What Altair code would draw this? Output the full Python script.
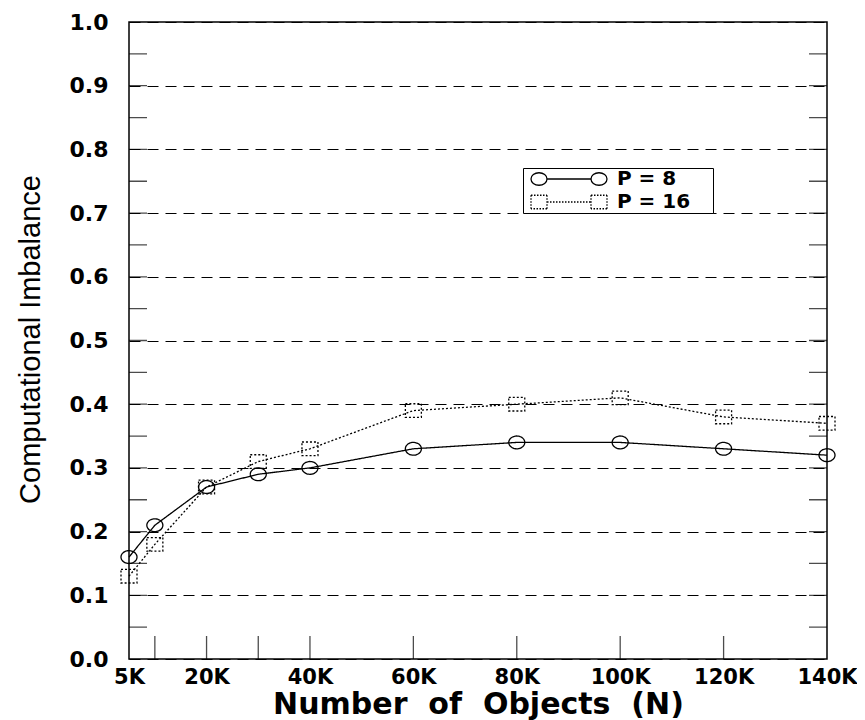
import altair as alt
import pandas as pd

# ---- data ----
N = [5000, 10000, 20000, 30000, 40000, 60000, 80000, 100000, 120000, 140000]
p8 = [0.16, 0.21, 0.27, 0.29, 0.30, 0.33, 0.34, 0.34, 0.33, 0.32]
p16 = [0.13, 0.18, 0.27, 0.31, 0.33, 0.39, 0.40, 0.41, 0.38, 0.37]
series_names = ["P = 8", "P = 16"]

x_label_values = [5000, 20000, 40000, 60000, 80000, 100000, 120000, 140000]
x_tick_values = [10000, 20000, 30000, 40000, 60000, 80000, 100000, 120000]
y_label_values = [0.0, 0.1, 0.2, 0.3, 0.4, 0.5, 0.6, 0.7, 0.8, 0.9, 1.0]
y_tick_values = [0.05, 0.1, 0.15, 0.2, 0.25, 0.3, 0.35, 0.4, 0.45, 0.5,
                 0.55, 0.6, 0.65, 0.7, 0.75, 0.8, 0.85, 0.9, 0.95]

df = pd.DataFrame({
    "N": N * 2,
    "imb": p8 + p16,
    "series": [series_names[0]] * len(N) + [series_names[1]] * len(N),
})
yticks = pd.DataFrame({"y": y_tick_values})
xticks = pd.DataFrame({"x": x_tick_values})

# ---- marker / legend symbol shapes (SVG paths in symbol units) ----
ELLIPSE = "M-1,0A1,0.8,0,1,1,1,0A1,0.8,0,1,1,-1,0Z"
SQUARE = "M-1,-0.85H1V0.85H-1Z"


def dotted(points, on=0.4, off=0.4):
    """Return an SVG path of short dashes along a polyline."""
    out = []
    for (x0, y0), (x1, y1) in zip(points[:-1], points[1:]):
        length = ((x1 - x0) ** 2 + (y1 - y0) ** 2) ** 0.5
        t = 0.0
        while t < length:
            t2 = min(t + on, length)
            ax, ay = x0 + (x1 - x0) * t / length, y0 + (y1 - y0) * t / length
            bx, by = x0 + (x1 - x0) * t2 / length, y0 + (y1 - y0) * t2 / length
            out.append(f"M{ax:.2f},{ay:.2f}L{bx:.2f},{by:.2f}")
            t += on + off
    return "".join(out)


def ell(cx, rx=1.6, ry=1.25):
    return (f"M{cx - rx:.2f},0A{rx},{ry},0,1,1,{cx + rx:.2f},0"
            f"A{rx},{ry},0,1,1,{cx - rx:.2f},0")


def sq_pts(cx, hw=1.6, hh=1.35):
    return [(cx - hw, -hh), (cx + hw, -hh), (cx + hw, hh), (cx - hw, hh), (cx - hw, -hh)]


C1, C2 = 1.0, 13.0
LEG8 = ell(C1) + f"M{C1 + 1.6:.2f},0L{C2 - 1.6:.2f},0" + ell(C2)
LEG16 = (dotted(sq_pts(C1), 0.3, 0.3) + dotted([(C1 + 1.6, 0), (C2 - 1.6, 0)], 0.3, 0.3)
         + dotted(sq_pts(C2), 0.3, 0.3))

xscale = alt.Scale(domain=[5000, 140000], nice=False, zero=False)
yscale = alt.Scale(domain=[0, 1], nice=False)

x_enc = alt.X("N:Q", scale=xscale, title="Number\u00a0\u00a0of\u00a0\u00a0Objects\u00a0\u00a0(N)",
              axis=alt.Axis(values=x_label_values, labelExpr="datum.value/1000 + 'K'",
                            ticks=False, domain=False, grid=False, labelFlush=False,
                            labelOverlap=False, labelFont="DejaVu Sans", labelFontSize=21,
                            labelFontWeight="bold", labelColor="black", labelPadding=7,
                            titleFont="DejaVu Sans", titleFontSize=30, titleFontWeight="bold",
                            titleColor="black", titleY=30, titleBaseline="top"))
y_enc = alt.Y("imb:Q", scale=yscale, title="Computational Imbalance",
              axis=alt.Axis(values=y_label_values, format=".1f", ticks=False, domain=False,
                            grid=True, gridDash=[11, 7], gridColor="black", gridWidth=1,
                            gridOpacity=1, labelFont="DejaVu Sans", labelFontSize=22,
                            labelFontWeight="bold", labelColor="black", labelPadding=21,
                            titleFont="Liberation Sans", titleFontSize=29,
                            titleFontWeight="normal", titleColor="black",
                            titleX=-84, titleY=317))

dash_scale = alt.Scale(domain=series_names, range=[[1, 0], [2, 2]])

legend = alt.Legend(
    title="MM", titleOrient="right", titleColor="white", titleFontSize=11,
    titleFont="DejaVu Sans", titlePadding=0,
    orient="none", legendX=394, legendY=146,
    strokeColor="black", fillColor="white", padding=1, rowPadding=3,
    symbolSize=100, symbolStrokeWidth=1.3, symbolStrokeColor="black",
    symbolFillColor="transparent",
    labelFont="DejaVu Sans", labelFontSize=20, labelFontWeight="bold",
    labelColor="black", labelOffset=73,
)

lines = alt.Chart(df).mark_line(color="black", strokeWidth=1.3).encode(
    x=x_enc, y=y_enc,
    strokeDash=alt.StrokeDash("series:N", scale=dash_scale, legend=None),
    detail="series:N",
)

points = alt.Chart(df).mark_point(filled=False, color="black", size=256, strokeWidth=1.3,
                                  opacity=1).encode(
    x=alt.X("N:Q", scale=xscale),
    y=alt.Y("imb:Q", scale=yscale),
    shape=alt.Shape("series:N", scale=alt.Scale(domain=series_names, range=[ELLIPSE, SQUARE]),
                    legend=None),
    strokeDash=alt.StrokeDash("series:N", scale=dash_scale, legend=None),
)

legend_layer = alt.Chart(df).transform_filter("false").mark_point(
    filled=False, color="black", strokeWidth=1.3, opacity=1).encode(
    x=alt.X("N:Q", scale=xscale),
    y=alt.Y("imb:Q", scale=yscale),
    shape=alt.Shape("series:N", scale=alt.Scale(domain=series_names, range=[LEG8, LEG16]),
                    legend=legend),
)

ytick_left = alt.Chart(yticks).mark_tick(orient="horizontal", size=36, thickness=1.3,
                                         color="black", clip=True).encode(
    y=alt.Y("y:Q", scale=yscale), x=alt.datum(5000, scale=xscale))
ytick_right = alt.Chart(yticks).mark_tick(orient="horizontal", size=36, thickness=1.3,
                                          color="black", clip=True).encode(
    y=alt.Y("y:Q", scale=yscale), x=alt.datum(140000, scale=xscale))
xtick_bottom = alt.Chart(xticks).mark_tick(orient="vertical", size=46, thickness=1.3,
                                           color="black", clip=True).encode(
    x=alt.X("x:Q", scale=xscale), y=alt.datum(0, scale=yscale))

chart = alt.layer(lines, points, legend_layer, ytick_left, ytick_right, xtick_bottom).resolve_scale(
    shape="independent"
).properties(
    width=698, height=637,
    autosize=alt.AutoSizeParams(type="none"),
    padding={"left": 121, "top": 14, "right": 30, "bottom": 61},
    background="white",
).configure_view(stroke="black", strokeWidth=1.5)

chart.save("out.html", embed_options={"renderer": "svg", "actions": False})
